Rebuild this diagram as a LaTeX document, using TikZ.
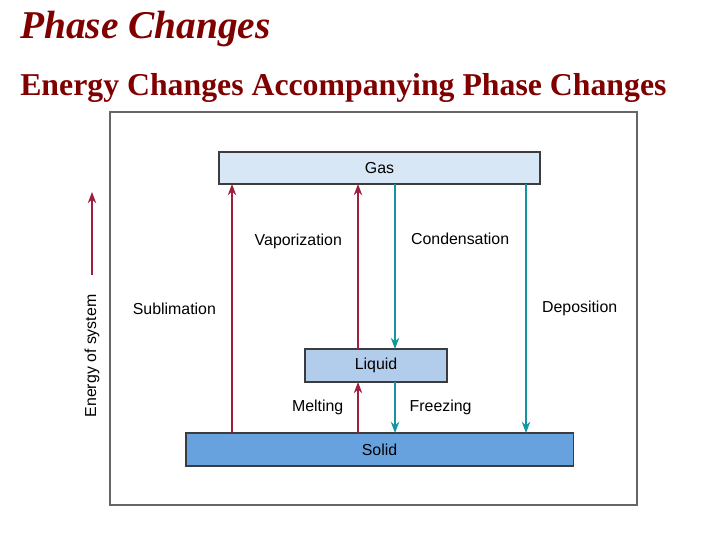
\documentclass[tikz,border=0pt]{standalone}
\usepackage{fontspec}
\setmainfont{Liberation Serif}
\setsansfont{Liberation Sans}
\usetikzlibrary{arrows.meta}

\definecolor{titlered}{RGB}{128,0,0}
\definecolor{uparrow}{RGB}{160,30,60}
\definecolor{downarrow}{RGB}{20,150,160}
\definecolor{gasfill}{RGB}{216,231,245}
\definecolor{liquidfill}{RGB}{178,205,236}
\definecolor{solidfill}{RGB}{104,162,222}
\definecolor{boxline}{RGB}{60,60,60}

\tikzset{
  phasebox/.style={draw=boxline, line width=0.8pt, inner sep=0pt, outer sep=0pt,
    font=\sffamily\fontsize{11.3}{13}\selectfont},
  lbl/.style={inner sep=0pt, font=\sffamily\fontsize{11.3}{13}\selectfont},
  up/.style={draw=uparrow, line width=0.9pt, -{Stealth[length=8pt,width=6pt]}},
  down/.style={draw=downarrow, line width=0.9pt, -{Stealth[length=8pt,width=6pt]}}
}

\begin{document}
\begin{tikzpicture}[x=0.025cm, y=-0.025cm]

      \useasboundingbox[fill=white] (0,0) rectangle (720,540);

      % titles
      \node[anchor=base west, inner sep=0pt, text=titlered,
        font=\bfseries\itshape\fontsize{28}{32}\selectfont] (title) at (20,38) {Phase Changes};
      \node[anchor=base west, inner sep=0pt, text=titlered,
        font=\bfseries\fontsize{22.6}{26}\selectfont] (subtitle) at (20,95)
        {Energy Changes Accompanying Phase Changes};

      % frame
      \draw[gray!80!black, line width=1.2pt] (110,112) rectangle (637,505);

      \begin{scope}[every node/.style={phasebox}]
        \node[fill=gasfill, minimum width=8.025cm, minimum height=0.8cm] (gas) at (379.5,168) {Gas};
        \node[fill=liquidfill, minimum width=3.55cm, minimum height=0.825cm] (liquid) at (376,365.5) {Liquid};
        \node[fill=solidfill, minimum width=9.675cm, minimum height=0.825cm] (solid) at (379.5,449.5) {Solid};
      \end{scope}

      \coordinate (xsub) at (232,0);
      \coordinate (xvap) at (358,0);
      \coordinate (xcon) at (395,0);
      \coordinate (xdep) at (526,0);

      \begin{scope}[every node/.style={lbl}]
        \path (solid.north -| xsub)  edge[up] node[left=11pt] {Sublimation} (gas.south -| xsub);
        \path (liquid.north -| xvap) edge[up] node[left=11pt, pos=.655] {Vaporization} (gas.south -| xvap);
        \path (gas.south -| xcon)    edge[down] node[right=11pt, pos=.335] {Condensation} (liquid.north -| xcon);
        \path (gas.south -| xdep)    edge[down] node[right=11pt] {Deposition} (solid.north -| xdep);
        \path (solid.north -| xvap)  edge[up] node[left=10pt] {Melting} (liquid.south -| xvap);
        \path (liquid.south -| xcon) edge[down] node[right=10pt] {Freezing} (solid.north -| xcon);

        % energy axis
        \node[rotate=90] (energy) at (92,356) {Energy of system};
        \coordinate (etop) at (92,192);
        \draw[up] ([yshift=14pt]energy.east) -- (etop);
      \end{scope}

    \end{tikzpicture}
\end{document}
